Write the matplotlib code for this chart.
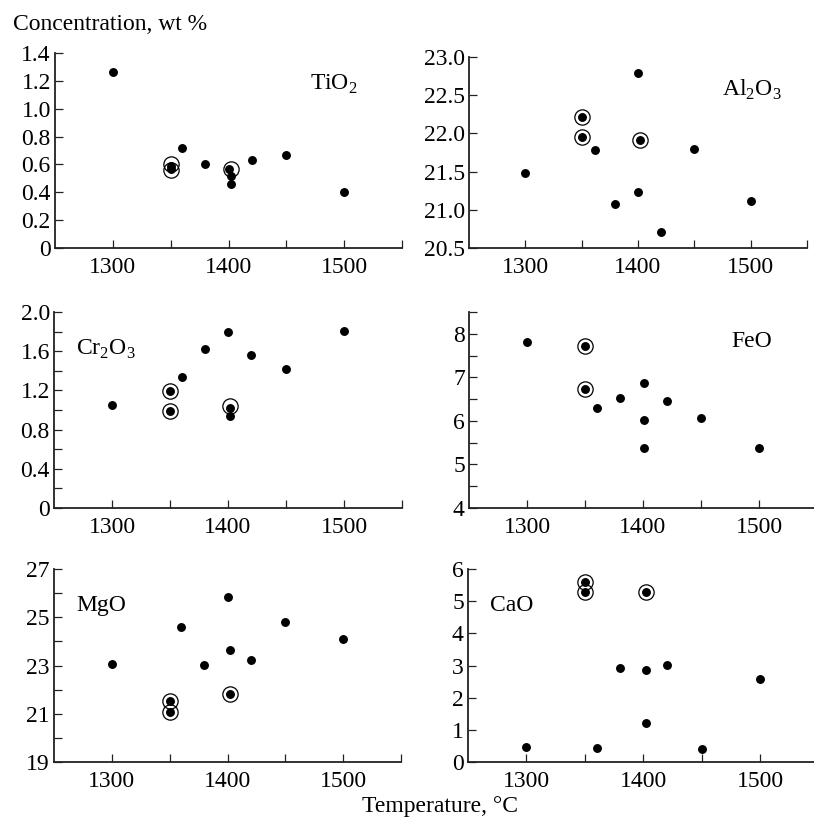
import matplotlib
matplotlib.use("Agg")
import matplotlib.pyplot as plt

plt.rcParams["font.family"] = "Liberation Serif"
plt.rcParams["mathtext.fontset"] = "custom"
plt.rcParams["mathtext.rm"] = "Liberation Serif"
plt.rcParams["font.size"] = 17

# x ticks shared by all panels
X_MAJOR = [1300, 1400, 1500]
X_MINOR = [1350, 1450, 1550]

# TiO2
tio2_t = [1300, 1350, 1350, 1360, 1380, 1400, 1402, 1402, 1420, 1450, 1500]
tio2_v = [1.26, 0.59, 0.57, 0.72, 0.60, 0.57, 0.52, 0.46, 0.63, 0.67, 0.40]
tio2_ring_t = [1350, 1350, 1402]
tio2_ring_v = [0.60, 0.56, 0.57]
tio2_ticks = [0, 0.2, 0.4, 0.6, 0.8, 1.0, 1.2, 1.4]
tio2_labels = ["0", "0.2", "0.4", "0.6", "0.8", "1.0", "1.2", "1.4"]

# Al2O3
al2o3_t = [1300, 1350, 1350, 1362, 1380, 1400, 1400, 1402, 1420, 1450, 1500]
al2o3_v = [21.48, 22.22, 21.95, 21.78, 21.08, 22.79, 21.23, 21.92, 20.71, 21.80, 21.11]
al2o3_ring_t = [1350, 1350, 1402]
al2o3_ring_v = [22.22, 21.95, 21.92]
al2o3_ticks = [20.5, 21.0, 21.5, 22.0, 22.5, 23.0]
al2o3_labels = ["20.5", "21.0", "21.5", "22.0", "22.5", "23.0"]

# Cr2O3
cr2o3_t = [1300, 1350, 1350, 1360, 1380, 1400, 1402, 1402, 1420, 1450, 1500]
cr2o3_v = [1.05, 1.19, 0.99, 1.34, 1.62, 1.80, 1.02, 0.94, 1.56, 1.42, 1.81]
cr2o3_ring_t = [1350, 1350, 1402]
cr2o3_ring_v = [1.19, 0.99, 1.04]
cr2o3_ticks = [0, 0.4, 0.8, 1.2, 1.6, 2.0]
cr2o3_labels = ["0", "0.4", "0.8", "1.2", "1.6", "2.0"]
cr2o3_minor = [0.2, 0.6, 1.0, 1.4, 1.8]

# FeO
feo_t = [1300, 1350, 1350, 1360, 1380, 1401, 1401, 1401, 1421, 1450, 1500]
feo_v = [7.82, 7.72, 6.74, 6.29, 6.53, 6.87, 6.02, 5.37, 6.46, 6.07, 5.37]
feo_ring_t = [1350, 1350]
feo_ring_v = [7.72, 6.74]
feo_ticks = [4, 5, 6, 7, 8]
feo_labels = ["4", "5", "6", "7", "8"]
feo_minor = [4.5, 5.5, 6.5, 7.5, 8.5]

# MgO
mgo_t = [1300, 1350, 1350, 1360, 1380, 1400, 1402, 1402, 1420, 1450, 1500]
mgo_v = [23.07, 21.52, 21.07, 24.59, 23.02, 25.85, 23.63, 21.82, 23.23, 24.81, 24.10]
mgo_ring_t = [1350, 1350, 1402]
mgo_ring_v = [21.52, 21.07, 21.82]
mgo_ticks = [19, 21, 23, 25, 27]
mgo_labels = ["19", "21", "23", "25", "27"]
mgo_minor = [20, 22, 24, 26]

# CaO
cao_t = [1300, 1350, 1350, 1360, 1380, 1402, 1402, 1402, 1420, 1450, 1500]
cao_v = [0.47, 5.60, 5.29, 0.43, 2.91, 2.87, 1.21, 5.29, 3.01, 0.40, 2.59]
cao_ring_t = [1350, 1350, 1402]
cao_ring_v = [5.60, 5.29, 5.29]
cao_ticks = [0, 1, 2, 3, 4, 5, 6]
cao_labels = ["0", "1", "2", "3", "4", "5", "6"]

W, H = 814, 821


def box(left, right, top, bottom):
    return [left / W, 1 - bottom / H, (right - left) / W, (bottom - top) / H]


panels = [
    (box(55, 402, 53, 248), tio2_t, tio2_v, tio2_ring_t, tio2_ring_v,
     (0, 1.4), tio2_ticks, tio2_labels, [], r"TiO$_\mathrm{2}$", (0.735, 0.84), "left"),
    (box(469, 807, 57, 248), al2o3_t, al2o3_v, al2o3_ring_t, al2o3_ring_v,
     (20.5, 23.0), al2o3_ticks, al2o3_labels, [], r"Al$_\mathrm{2}$O$_\mathrm{3}$", (0.75, 0.83), "left"),
    (box(54, 402, 312, 508), cr2o3_t, cr2o3_v, cr2o3_ring_t, cr2o3_ring_v,
     (0, 2.0), cr2o3_ticks, cr2o3_labels, cr2o3_minor, r"Cr$_\mathrm{2}$O$_\mathrm{3}$", (0.063, 0.81), "left"),
    (box(469, 817, 312, 508), feo_t, feo_v, feo_ring_t, feo_ring_v,
     (4, 8.5), feo_ticks, feo_labels, feo_minor, "FeO", (0.755, 0.85), "left"),
    (box(54, 401, 569, 762), mgo_t, mgo_v, mgo_ring_t, mgo_ring_v,
     (19, 27), mgo_ticks, mgo_labels, mgo_minor, "MgO", (0.063, 0.81), "left"),
    (box(468, 819, 569, 762), cao_t, cao_v, cao_ring_t, cao_ring_v,
     (0, 6), cao_ticks, cao_labels, [], "CaO", (0.063, 0.81), "left"),
]

fig = plt.figure(figsize=(W / 100, H / 100), dpi=100)

for (pos, t, v, rt, rv, ylim, yt, ylab, ymin, name, tpos, ha) in panels:
    ax = fig.add_axes(pos)
    ax.plot(t, v, "o", color="black", markersize=5.4, clip_on=False)
    ax.plot(rt, rv, "o", markerfacecolor="none", markeredgecolor="black",
            markersize=11, markeredgewidth=0.9, clip_on=False)
    ax.set_xlim(1250, 1550)
    ax.set_ylim(*ylim)
    ax.set_xticks(X_MAJOR)
    ax.set_xticks(X_MINOR, minor=True)
    ax.set_yticks(yt)
    ax.set_yticklabels(ylab)
    ax.set_yticks(ymin, minor=True)
    for s in ("top", "right"):
        ax.spines[s].set_visible(False)
    for s in ("left", "bottom"):
        ax.spines[s].set_linewidth(1.3)
        ax.spines[s].set_color("#222222")
    ax.tick_params(which="both", direction="in", length=6, width=0.9, color="#222222")
    ax.tick_params(axis="x", which="both", pad=6.5)
    ax.tick_params(axis="y", which="both", pad=3)
    ax.text(tpos[0], tpos[1], name, transform=ax.transAxes, ha=ha, va="center")

fig.text(13 / W, 1 - 25 / H, "Concentration, wt %", ha="left", va="center")
fig.text(440 / W, 1 - 806 / H, "Temperature, °C", ha="center", va="center")

fig.savefig("out.png", dpi=100)
